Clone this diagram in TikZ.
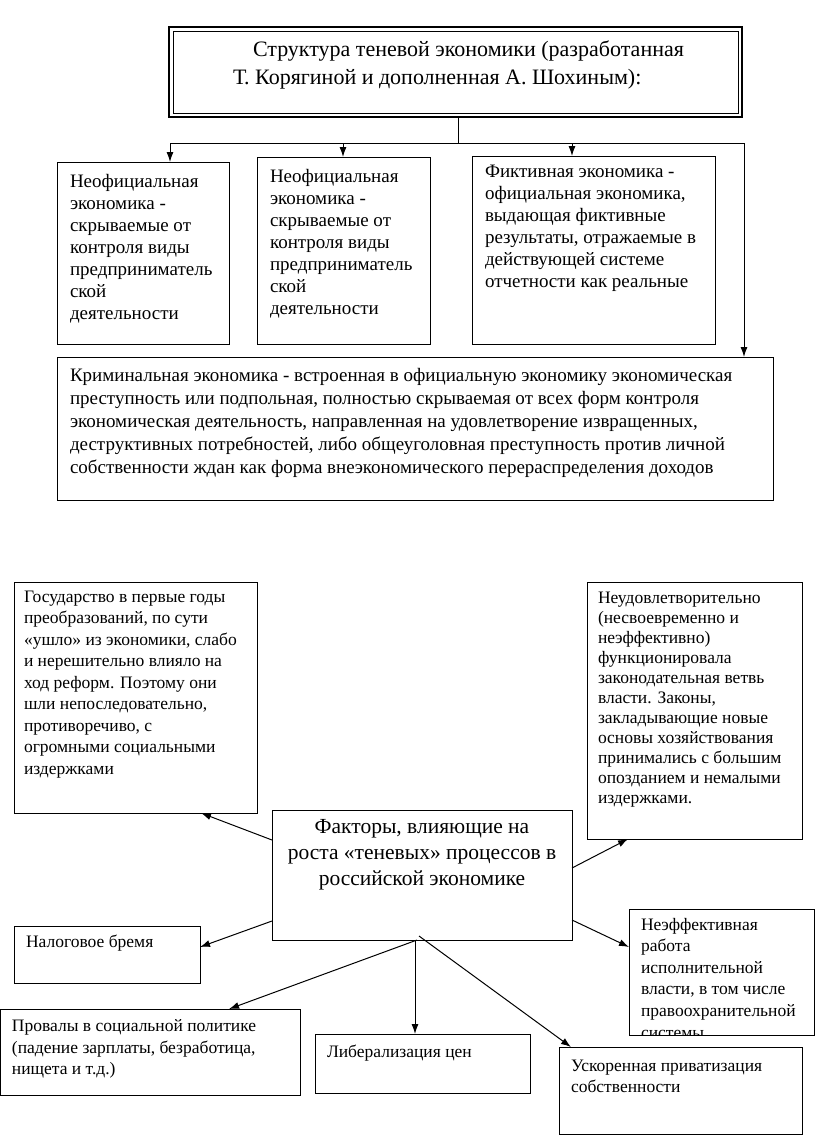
\documentclass[tikz,border=0pt]{standalone}
\usepackage{fontspec}
\setmainfont{Liberation Serif}
\usetikzlibrary{arrows.meta}
\newcommand\fsz[2]{\fontsize{#1}{#2}\selectfont}
\begin{document}
\begin{tikzpicture}[x=1pt,y=-1pt,
  box/.style={draw, line width=1pt, anchor=north west, inner sep=0, outer sep=0},
  txt/.style={anchor=north west, align=left, inner sep=0, outer sep=0},
  arr/.style={line width=1pt, -{Latex[length=10pt,width=7pt]}},
  ln/.style={line width=1pt}]
\useasboundingbox (0,0) rectangle (816,1136);
\fill[white] (0,0) rectangle (816,1136);

% ---------- upper part ----------
\node[box, line width=1.8pt, minimum width=573pt, minimum height=90pt] (title) at (169,27) {};
\node[box, line width=0.8pt, minimum width=565pt, minimum height=82pt] (titlein) at (173,31) {};
\node[txt, font=\fsz{22}{28}] (titletxt) at (233,41) {\hspace*{20pt}Структура теневой экономики (разработанная\\Т. Корягиной и дополненная А. Шохиным):};

\node[box, minimum width=172pt, minimum height=182pt] (b1) at (57,162) {};
\node[txt, font=\fsz{19}{22}] (b1t) at (70,174) {Неофициальная\\экономика -\\скрываемые от\\контроля виды\\предприниматель\\ской\\деятельности};

\node[box, minimum width=173pt, minimum height=187pt] (b2) at (257,157) {};
\node[txt, font=\fsz{19}{22}] (b2t) at (270,169) {Неофициальная\\экономика -\\скрываемые от\\контроля виды\\предприниматель\\ской\\деятельности};

\node[box, minimum width=243pt, minimum height=188pt] (b3) at (472,156) {};
\node[txt, font=\fsz{19}{22}] (b3t) at (485,165) {Фиктивная экономика -\\официальная экономика,\\выдающая фиктивные\\результаты, отражаемые в\\действующей системе\\отчетности как реальные};

\node[box, minimum width=716pt, minimum height=143pt] (crim) at (57,357) {};
\node[txt, font=\fsz{19}{23}] (crimt) at (70,368) {Криминальная экономика - встроенная в официальную экономику экономическая\\преступность или подпольная, полностью скрываемая от всех форм контроля\\экономическая деятельность, направленная на удовлетворение извращенных,\\деструктивных потребностей, либо общеуголовная преступность против личной\\собственности ждан как форма внеэкономического перераспределения доходов};

\coordinate (c1) at (170,143);
\coordinate (c2) at (343,143);
\coordinate (c3) at (572,143);
\coordinate (c4) at (744,143);
\draw[ln] (458,0 |- title.south) -- (458,0 |- c1);
\draw[ln] (c1) -- (c4);
\draw[arr] (c1) -- (c1 |- b1.north);
\draw[arr] (c2) -- (c2 |- b2.north);
\draw[arr] (c3) -- (c3 |- b3.north);
\draw[arr] (c4) -- (c4 |- crim.north);

% ---------- lower part ----------
\node[box, minimum width=243pt, minimum height=231pt] (gA) at (14,582) {};
\node[txt, font=\fsz{17.5}{21.5}] (gAt) at (24,591) {Государство в первые годы\\преобразований, по сути\\«ушло» из экономики, слабо\\и нерешительно влияло на\\ход реформ. Поэтому они\\шли непоследовательно,\\противоречиво, с\\огромными социальными\\издержками};

\node[box, minimum width=215pt, minimum height=257pt] (gB) at (587,582) {};
\node[txt, font=\fsz{17.5}{20}] (gBt) at (598,592) {Неудовлетворительно\\(несвоевременно и\\неэффективно)\\функционировала\\законодательная ветвь\\власти. Законы,\\закладывающие новые\\основы хозяйствования\\принимались с большим\\опозданием и немалыми\\издержками.};

\node[box, minimum width=300pt, minimum height=130pt] (fac) at (272,810) {};
\node[anchor=north, align=center, inner sep=0, font=\fsz{21.5}{26}] (fact) at (422,819) {Факторы, влияющие на\\роста «теневых» процессов в\\российской экономике};

\node[box, minimum width=186pt, minimum height=57pt] (nal) at (14,926) {};
\node[txt, font=\fsz{17.5}{21.5}] (nalt) at (26,935) {Налоговое бремя};

\node[box, minimum width=185pt, minimum height=126pt] (neef) at (629,909) {};
\begin{scope}
\clip (629,909) rectangle (815,1034);
\node[txt, font=\fsz{17.5}{21.6}] (neeft) at (641,918) {Неэффективная\\работа\\исполнительной\\власти, в том числе\\правоохранительной\\системы};
\end{scope}

\node[box, minimum width=300pt, minimum height=86pt] (prov) at (0,1009) {};
\node[txt, font=\fsz{17.5}{21.5}] (provt) at (12,1020) {Провалы в социальной политике\\(падение зарплаты, безработица,\\нищета и т.д.)};

\node[box, minimum width=215pt, minimum height=59pt] (lib) at (315,1034) {};
\node[txt, font=\fsz{17.5}{21.5}] (libt) at (327,1045) {Либерализация цен};

\node[box, minimum width=243pt, minimum height=87pt] (usk) at (559,1047) {};
\node[txt, font=\fsz{17.5}{21.5}] (uskt) at (571,1060) {Ускоренная приватизация\\собственности};

\coordinate (us) at (419,936);
\draw[arr] (fac.west |- 0,840) -- (201,0 |- gA.south);
\draw[arr] (fac.east |- 0,868) -- (628,0 |- gB.south);
\draw[arr] (fac.west |- 0,921) -- (nal.east |- 0,947);
\draw[arr] (fac.east |- 0,920) -- (neef.west |- 0,947);
\draw[arr] (417,0 |- fac.south) -- (229,0 |- prov.north);
\draw[arr] (415,0 |- fac.south) -- (415,0 |- lib.north);
\draw[arr] (us) -- (571,0 |- usk.north);
\end{tikzpicture}
\end{document}
